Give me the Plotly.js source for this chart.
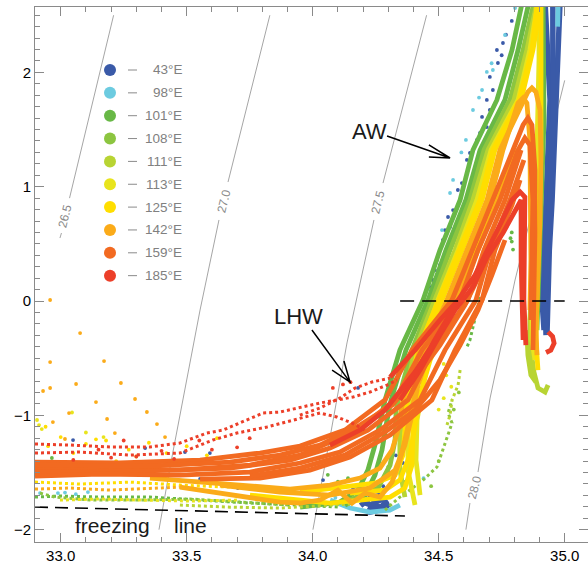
<!DOCTYPE html>
<html><head><meta charset="utf-8">
<script src="https://cdn.plot.ly/plotly-3.0.1.min.js"></script>
<style>html,body{margin:0;padding:0;background:#fff}#chart{width:588px;height:565px}</style>
</head><body><div id="chart"></div>
<script>
// ---------------- series (longitude of stations) ----------------
const seriesNames = ['43°E','98°E','101°E','108°E','111°E','113°E','125°E','142°E','159°E','185°E'];
const seriesColors = ['#3a5aa8','#6ccbe0','#68b846','#8cc540','#b8d433','#e8e41d','#ffde00','#fbab19','#f26a21','#ec3f29'];

// 43°E
const s43line = [34.920,34.934,34.942,34.934,34.926,34.918,34.910,34.918,null,
 34.983,34.975,34.967,34.962,34.950,34.939,34.931,34.930,null,
 34.953,34.953,34.953,34.945,34.934,34.922,34.926,null,
 34.190,34.230,34.270,34.290,34.260,34.220,34.240,34.280,34.300,34.250,34.200];
const t43line = [2.70,2.196,1.759,1.321,0.884,0.446,0.009,-0.254,null,
 2.70,2.196,1.759,1.321,0.884,0.446,0.009,-0.272,null,
 2.70,2.109,1.584,1.059,0.534,0.009,-0.298,null,
 -1.790,-1.720,-1.700,-1.760,-1.830,-1.850,-1.770,-1.730,-1.800,-1.800,-1.760];
const s43dot = [], t43dot = [];
const s43pt = [34.731,34.755,34.735,34.703,34.715,34.691,34.703,34.672,34.691,34.664,34.652,34.624,34.612,34.592,34.576,34.557,34.537,34.545,34.525,34.517,34.505,34.493,34.505,34.485,34.477,34.466,34.767,34.790,34.750,34.180,
 33.049,33.335,33.493,33.592,33.703,33.553,33.870,34.041,34.061,34.160,34.358,34.386,34.300,34.330,34.280,34.360];
const t43pt = [2.196,2.257,2.082,1.960,1.846,1.759,1.671,1.610,1.522,1.470,1.409,1.295,1.234,1.032,0.971,0.796,0.735,0.647,0.621,0.534,0.446,0.359,0.315,0.271,0.184,0.122,2.330,2.450,2.150,-0.760,
 -1.216,-1.286,-1.321,-1.330,-1.636,-1.557,-1.654,-1.566,-1.697,-1.636,-1.417,-1.085,-1.500,-1.350,-1.620,-1.200];

// 98°E
const s98line = [34.069,34.148,34.227,34.306,34.346,null,34.975,34.972];
const t98line = [-1.741,-1.811,-1.846,-1.829,-1.785,null,2.70,2.40];
const s98dot = [], t98dot = [];
const s98pt = [34.691,34.715,34.672,34.636,34.763,34.803,34.608,34.557,34.545,34.513,34.466,34.710,34.660,34.590,32.918,32.989,33.017,33.108,33.060,34.090,34.120,34.440];
const t98pt = [2.004,2.021,1.846,1.671,2.327,2.563,1.409,1.059,0.945,0.621,0.096,2.080,1.780,1.300,-1.680,-1.680,-1.676,-1.671,-1.690,-1.720,-1.760,-1.550];

// 101°E
const s101line = [33.950,34.108,34.180,34.219,34.247,34.267,34.287,34.346,34.438,34.505,34.585,34.636,34.731,34.791,34.831,34.840,null,
 34.128,34.208,34.247,34.275,34.295,34.311,34.370,34.458,34.529,34.608,34.664,34.763,34.815,34.854,34.860,null,
 34.914,34.918,34.918,34.910,34.902,34.894,34.890];
const t101line = [-1.803,-1.759,-1.654,-1.479,-1.260,-1.041,-0.866,-0.429,0.009,0.446,0.884,1.321,1.759,2.196,2.572,2.70,null,
 -1.785,-1.698,-1.523,-1.304,-1.041,-0.866,-0.429,0.009,0.446,0.884,1.321,1.759,2.196,2.572,2.70,null,
 2.70,2.109,1.584,1.059,0.534,0.009,-0.254];
const s101dot = [32.898,32.997,33.156,33.354,33.553,33.751,33.950,34.108,null,34.664,34.652,34.636,34.624,34.612];
const t101dot = [-1.715,-1.706,-1.715,-1.715,-1.741,-1.767,-1.785,-1.803,null,0.035,-0.079,-0.228,-0.341,-0.402];
const s101pt = [34.790,34.790,34.795,34.785,32.965,34.060,34.100,34.140,34.170,34.270,34.300,34.330,34.360];
const t101pt = [0.600,0.520,0.450,0.550,-1.373,-1.520,-1.580,-1.550,-1.620,-1.350,-1.450,-1.500,-1.580];

// 108°E
const s108line = [34.148,34.259,34.307,34.327,34.331,34.339,34.394,34.473,34.545,34.624,34.680,34.783,34.835,34.874,34.880];
const t108line = [-1.741,-1.636,-1.435,-1.216,-0.954,-0.866,-0.429,0.009,0.446,0.884,1.321,1.759,2.196,2.572,2.70];
const s108dot = [34.287,34.346,34.386,34.438,34.493,34.513,34.533,34.553,34.537,34.553,null,32.918,32.977,33.116,33.315,33.513,33.711,33.910];
const t108dot = [-1.829,-1.715,-1.654,-1.566,-1.452,-1.330,-1.190,-1.067,-0.980,-0.866,null,-1.680,-1.715,-1.741,-1.741,-1.732,-1.759,-1.785];
const s108pt = [34.470,34.500,34.560,34.580];
const t108pt = [-1.620,-1.400,-0.950,-0.800];

// 111°E
const s111line = [34.366,34.346,34.346,34.354,34.362,34.406,34.485,34.565,34.636,34.696,34.799,34.850,34.886,34.890,null,
 34.870,34.862,34.866,34.878,34.894,34.922,34.934,null,
 34.850,34.854,34.866,34.886];
const t111line = [-1.715,-1.479,-1.216,-0.954,-0.866,-0.429,0.009,0.446,0.884,1.321,1.759,2.196,2.572,2.70,null,
 0.184,-0.166,-0.429,-0.621,-0.761,-0.796,-0.735,null,
 -0.254,-0.473,-0.647,-0.709];
const s111dot = [34.585,34.577,34.553,34.545,34.533,null,33.473,33.672,33.870,34.029,34.148];
const t111dot = [-0.604,-0.735,-0.866,-0.998,-1.085,null,-1.785,-1.803,-1.811,-1.794,-1.776];
const s111pt = [], t111pt = [];

// 113°E
const s113line = [34.406,34.378,34.378,34.386,34.426,34.497,34.577,34.652,34.708,34.815,34.862,34.894,34.900,null,
 34.898,34.898,34.890,34.882,34.874,34.870,34.870,34.882,null,
 34.426,34.410,34.414,34.442,34.481,34.537,34.608,34.680,34.735];
const t113line = [-1.785,-1.479,-1.172,-0.866,-0.429,0.009,0.446,0.884,1.321,1.759,2.196,2.572,2.70,null,
 2.70,2.109,1.321,0.884,0.446,0.009,-0.341,-0.516,null,
 -1.698,-1.391,-1.041,-0.691,-0.341,0.009,0.402,0.796,1.146];
const s113dot = [32.997,33.156,33.315,33.513,33.711];
const t113dot = [-1.741,-1.732,-1.741,-1.750,-1.741];
const s113pt = [32.906,32.914,32.925,33.045,33.100,33.170,34.520,34.530,34.550,34.520,34.500];
const t113pt = [-1.041,-1.085,-1.120,-0.975,-1.150,-1.190,-0.550,-0.650,-0.750,-0.850,-0.950];

// 125°E
const s125line = [33.751,33.950,34.069,34.188,34.307,34.366,34.394,34.398,34.402,34.438,34.513,34.593,34.672,34.723,34.827,34.874,34.902,34.905,null,
 33.950,34.108,34.247,34.327,34.358,34.366,34.374,34.418,34.501,34.585,34.664,34.715,34.819,34.870,34.894,34.897,null,
 34.906,34.906,34.906,34.898,34.890,34.886,34.894,null,
 34.148,34.287,34.346,34.386,34.406,34.426,34.466,34.533,34.608,34.680,34.743,34.791];
const t125line = [-1.698,-1.741,-1.767,-1.741,-1.715,-1.636,-1.435,-1.129,-0.866,-0.429,0.009,0.446,0.884,1.321,1.759,2.196,2.572,2.70,null,
 -1.671,-1.628,-1.593,-1.523,-1.348,-1.129,-0.866,-0.429,0.009,0.446,0.884,1.321,1.759,2.196,2.572,2.70,null,
 2.70,2.109,1.321,0.709,0.096,-0.341,-0.604,null,
 -1.680,-1.654,-1.566,-1.348,-1.085,-0.822,-0.516,-0.166,0.227,0.621,0.971,1.234];
const s125dot = [32.898,33.077,33.275,33.473,33.672,33.870];
const t125dot = [-1.584,-1.601,-1.584,-1.610,-1.628,-1.645];
const s125pt = [33.00,33.10,33.18,33.27,33.35,33.42,33.50,33.58,32.95,33.05,33.22,33.62,32.94,33.14,33.30];
const t125pt = [-1.19,-1.25,-1.22,-1.30,-1.24,-1.33,-1.27,-1.35,-1.27,-1.33,-1.40,-1.20,-1.10,-1.21,-1.36];

// 142°E
const s142line = [33.473,33.612,33.751,33.870,33.950,34.029,34.100,34.156,34.208,34.267,34.315,34.346,34.366,34.386,34.402,34.446,34.533,34.612,34.692,34.743,34.831,34.854,34.870,34.886,34.902,34.906,34.902,34.894,34.886,34.890,null,
 33.354,33.553,33.751,33.910,34.069,34.188,34.267,34.315,34.339,34.358,34.426,34.545,34.624,34.704,34.755,34.791,34.815,34.835,34.850,34.862,34.866,34.866,34.862,null,
 33.632,33.870,34.069,34.227,34.327,34.366,34.394,34.418,34.473,34.565,34.648,34.719,34.775,34.807];
const t142line = [-1.628,-1.671,-1.715,-1.759,-1.767,-1.741,-1.654,-1.767,-1.680,-1.715,-1.584,-1.391,-1.216,-1.041,-0.866,-0.429,0.009,0.446,0.884,1.321,1.715,1.829,1.864,1.829,1.671,1.234,0.709,0.184,-0.254,-0.473,null,
 -1.549,-1.584,-1.619,-1.645,-1.610,-1.549,-1.461,-1.304,-1.129,-0.866,-0.429,0.009,0.446,0.884,1.321,1.584,1.732,1.776,1.732,1.409,0.884,0.359,-0.079,null,
 -1.610,-1.671,-1.698,-1.636,-1.479,-1.260,-0.998,-0.735,-0.385,0.009,0.402,0.779,1.102,1.321];
const s142dot = [32.898,33.037,33.196,33.354,33.473];
const t142dot = [-1.645,-1.636,-1.654,-1.636,-1.628];
const s142pt = [32.958,33.077,32.958,33.172,32.958,32.930,33.061,33.239,33.140,33.295,33.033,33.184,33.342,33.382,33.414,33.215,32.969,33.017];
const t142pt = [0.009,-0.280,-0.534,-0.525,-0.761,-0.787,-0.726,-0.717,-0.884,-0.857,-0.980,-1.032,-0.971,-1.076,-1.190,-1.155,-1.059,-1.207];

// 159°E
const s159line = [32.898,33.235,33.553,33.791,33.950,34.128,34.287,34.394,34.553,34.632,34.715,34.795,34.835,34.854,34.870,34.882,34.882,34.878,34.874,34.874,null,
 32.898,33.156,33.473,33.751,33.950,34.176,34.327,34.434,34.585,34.656,34.743,34.815,34.842,34.862,34.874,34.870,34.866,null,
 32.898,33.315,33.672,33.910,34.069,34.219,34.378,34.477,34.616,34.680,34.763,34.827,null,
 32.898,33.156,33.473,33.751,33.950,34.108,34.267,34.426,34.525,34.648,34.704,34.783,34.838,null,
 33.553,33.791,33.989,34.148,34.307,34.473,34.565,34.672,34.723,34.771,null,
 32.898,33.354,33.672,33.870,34.029,34.188,34.315,34.418,34.505,34.604,34.672,34.731,34.791,34.823,null,
 33.751,33.950,34.128,34.287,34.406,34.505,34.585,34.656,34.711,34.763];
const t159line = [-1.409,-1.417,-1.391,-1.330,-1.269,-1.129,-0.866,-0.429,0.009,0.446,0.884,1.321,1.540,1.601,1.540,1.146,0.621,0.096,-0.254,-0.429,null,
 -1.461,-1.461,-1.479,-1.435,-1.348,-1.129,-0.866,-0.429,0.009,0.446,0.884,1.321,1.426,1.365,0.884,0.359,-0.166,null,
 -1.496,-1.488,-1.461,-1.391,-1.286,-1.129,-0.866,-0.429,0.009,0.446,0.884,1.321,null,
 -1.531,-1.514,-1.523,-1.496,-1.417,-1.321,-1.129,-0.866,-0.429,0.009,0.446,0.884,1.234,null,
 -1.558,-1.549,-1.479,-1.365,-1.172,-0.866,-0.429,0.009,0.446,0.709,null,
 -1.435,-1.444,-1.409,-1.348,-1.260,-1.085,-0.910,-0.647,-0.385,-0.035,0.271,0.534,0.840,1.059,null,
 -1.531,-1.461,-1.348,-1.146,-0.954,-0.691,-0.385,-0.079,0.227,0.534];
const s159dot = [], t159dot = [];
const s159pt = [], t159pt = [];

// 185°E
const s185line = [34.307,34.406,34.505,34.577,34.644,34.696,34.743,34.791,34.823,34.842,34.838,34.838,34.846,null,
 34.346,34.426,34.505,34.565,34.636,34.692,34.755,34.811,34.827,34.827,34.831,34.835,null,
 34.069,34.188,34.287,34.346,34.406,34.466,34.525,34.577,null,
 34.934,34.952,34.958,34.945,34.926];
const t185line = [-0.665,-0.429,-0.166,0.009,0.227,0.446,0.665,0.884,0.954,0.910,0.446,0.009,-0.385,null,
 -0.866,-0.604,-0.297,-0.079,0.122,0.385,0.595,0.822,0.884,0.359,-0.166,-0.341,null,
 -1.260,-1.129,-0.954,-0.796,-0.621,-0.411,-0.184,0.009,null,
 -0.27,-0.31,-0.37,-0.43,-0.45];
const s185dot = [32.898,33.037,33.196,33.354,33.473,33.580,33.644,33.739,33.803,33.870,33.937,34.029,34.096,34.160,34.227,34.295,34.334,null,
 32.898,33.077,33.275,33.473,33.604,33.699,33.819,33.922,34.029,34.096,34.156,34.207,null,
 33.949,34.029,34.108,34.168,34.235,34.307];
const t185dot = [-1.251,-1.260,-1.277,-1.277,-1.242,-1.155,-1.129,-1.041,-0.980,-0.971,-0.936,-0.892,-0.866,-0.840,-0.796,-0.735,-0.691,null,
 -1.330,-1.321,-1.348,-1.330,-1.216,-1.155,-1.102,-1.041,-0.980,-1.015,-1.067,-1.129,null,
 -0.998,-0.936,-0.849,-0.761,-0.709,-0.674];
const s185pt = [33.30,33.45,33.20,33.05,33.60,33.70,33.15,33.40,33.55,33.75,33.25,34.15,34.12,34.08];
const t185pt = [-1.36,-1.38,-1.37,-1.39,-1.30,-1.28,-1.30,-1.31,-1.22,-1.20,-1.22,-0.71,-0.73,-0.76];

// ---------------- isopycnals (sigma-theta) ----------------
const isoLevels = ['26.5','27.0','27.5','28.0'];
const iso265S = [33.210,33.035,null,33.003,32.997], iso265T = [2.50,0.90,null,0.595,0.551];
const iso270S = [33.830,33.664,null,33.628,33.553,33.434,33.390], iso270T = [2.50,1.041,null,0.709,-0.079,-1.452,-2.00];
const iso275S = [34.452,34.335,34.279,null,34.243,34.136,34.069,34.001], iso275T = [2.50,1.496,1.032,null,0.709,-0.367,-1.190,-2.00];
const iso280S = [35.000,34.850,34.803,34.704,34.656,null,34.624,34.608], iso280T = [1.93,0.595,0.184,-0.849,-1.496,null,-1.767,-2.00];
const isoLabelS = [33.017,33.648,34.259,34.644];
const isoLabelT = [0.744,0.875,0.866,-1.630];

// reference lines
const freezeS = [32.898,34.366], freezeT = [-1.802,-1.881];
const zeroS = [34.347,35.0], zeroT = [0,0];

// ---------------- build ----------------
const traces = [];
const isoS = [iso265S,iso270S,iso275S,iso280S], isoT = [iso265T,iso270T,iso275T,iso280T];
isoS.forEach((s,i)=>traces.push({type:'scatter',x:s,y:isoT[i],mode:'lines',line:{color:'#8e8e8e',width:0.8},connectgaps:false,hoverinfo:'skip'}));

const lineS=[s43line,s98line,s101line,s108line,s111line,s113line,s125line,s142line,s159line,s185line];
const lineT=[t43line,t98line,t101line,t108line,t111line,t113line,t125line,t142line,t159line,t185line];
const dotS=[s43dot,s98dot,s101dot,s108dot,s111dot,s113dot,s125dot,s142dot,s159dot,s185dot];
const dotT=[t43dot,t98dot,t101dot,t108dot,t111dot,t113dot,t125dot,t142dot,t159dot,t185dot];
const ptS=[s43pt,s98pt,s101pt,s108pt,s111pt,s113pt,s125pt,s142pt,s159pt,s185pt];
const ptT=[t43pt,t98pt,t101pt,t108pt,t111pt,t113pt,t125pt,t142pt,t159pt,t185pt];

seriesNames.forEach((nm,i)=>{
  const c = seriesColors[i];
  if (lineS[i].length) traces.push({type:'scatter',name:nm,x:lineS[i],y:lineT[i],mode:'lines',connectgaps:false,
     line:{color:c,width:(i===0?5.5:4.8)},hoverinfo:'skip'});
  if (dotS[i].length) traces.push({type:'scatter',name:nm,x:dotS[i],y:dotT[i],mode:'lines',connectgaps:false,
     line:{color:c,width:3,dash:'dot'},hoverinfo:'skip'});
  if (ptS[i].length) traces.push({type:'scatter',name:nm,x:ptS[i],y:ptT[i],mode:'markers',
     marker:{color:c,size:3.8},hoverinfo:'skip'});
});

traces.push({type:'scatter',x:freezeS,y:freezeT,mode:'lines',line:{color:'#000',width:1.6,dash:'13px,7px'},hoverinfo:'skip'});
traces.push({type:'scatter',x:zeroS,y:zeroT,mode:'lines',line:{color:'#000',width:1.6,dash:'14px,8px'},hoverinfo:'skip'});

// layout helpers (pixel -> paper for the legend block)
const ML=35, MR=0, MT=7, MB=23, W=588, H=565;
const PW=W-ML-MR, PH=H-MT-MB;
const px=(x)=>(x-ML)/PW, py=(y)=>(H-MB-y)/PH;

const shapes=[], annotations=[];
seriesNames.forEach((nm,i)=>{
  const cy = 70 + 22.85*i;
  shapes.push({type:'circle',xref:'paper',yref:'paper',x0:px(104),x1:px(116),y0:py(cy+6),y1:py(cy-6),
    fillcolor:seriesColors[i],line:{width:0}});
  shapes.push({type:'line',xref:'paper',yref:'paper',x0:px(128),x1:px(137),y0:py(cy),y1:py(cy),line:{color:'#8a8a8a',width:1}});
  annotations.push({xref:'paper',yref:'paper',x:px(184),y:py(cy),xanchor:'right',yanchor:'middle',showarrow:false,
    text:nm,font:{family:'Liberation Sans, Arial, sans-serif',size:13.5,color:'#808080'}});
});
isoLevels.forEach((lv,i)=>annotations.push({x:isoLabelS[i],y:isoLabelT[i],text:lv,showarrow:false,textangle:-76,
   font:{family:'Liberation Sans, Arial, sans-serif',size:12,color:'#8a8a8a'}}));

const labFont = {family:'Liberation Sans, Arial, sans-serif',size:22,color:'#1a1a1a'};
annotations.push({x:34.227,y:1.487,text:'AW',showarrow:false,font:labFont});
annotations.push({x:33.942,y:-0.131,text:'LHW',showarrow:false,font:labFont});
const fzFont = {family:'Liberation Sans, Arial, sans-serif',size:21,color:'#1a1a1a'};
annotations.push({x:33.204,y:-1.965,text:'freezing',showarrow:false,font:fzFont});
annotations.push({x:33.517,y:-1.965,text:'line',showarrow:false,font:fzFont});

// arrows (open heads)
shapes.push({type:'path',xref:'x',yref:'y',path:'M34.295,1.444 L34.545,1.251 M34.461,1.365 L34.545,1.251 L34.461,1.260',line:{color:'#000',width:1.5}});
shapes.push({type:'path',xref:'x',yref:'y',path:'M33.997,-0.254 L34.148,-0.709 M34.124,-0.525 L34.148,-0.709 L34.077,-0.604',line:{color:'#000',width:1.5}});

const axCommon = {showgrid:false,zeroline:false,showline:true,linecolor:'#8a8a8a',linewidth:1,mirror:'ticks',
  ticks:'inside',ticklen:9,tickcolor:'#8a8a8a',tickwidth:1,
  tickfont:{family:'Liberation Sans, Arial, sans-serif',size:15,color:'#000'}};
const layout = {
  width:W,height:H,margin:{l:ML,r:MR,t:MT,b:MB,pad:0},paper_bgcolor:'#fff',plot_bgcolor:'#fff',showlegend:false,
  xaxis:Object.assign({},axCommon,{range:[32.898,35.0925],tick0:33,dtick:0.5,tickformat:'.1f',
     minor:{tick0:33,dtick:0.1,ticks:'inside',ticklen:5,tickcolor:'#8a8a8a'}}),
  yaxis:Object.assign({},axCommon,{range:[-2.108,2.572],tick0:0,dtick:1,
     minor:{tick0:0,dtick:0.1,ticks:'inside',ticklen:5,tickcolor:'#8a8a8a'}}),
  shapes:shapes,annotations:annotations
};
Plotly.newPlot('chart',traces,layout,{staticPlot:true,displayModeBar:false});
</script></body></html>
